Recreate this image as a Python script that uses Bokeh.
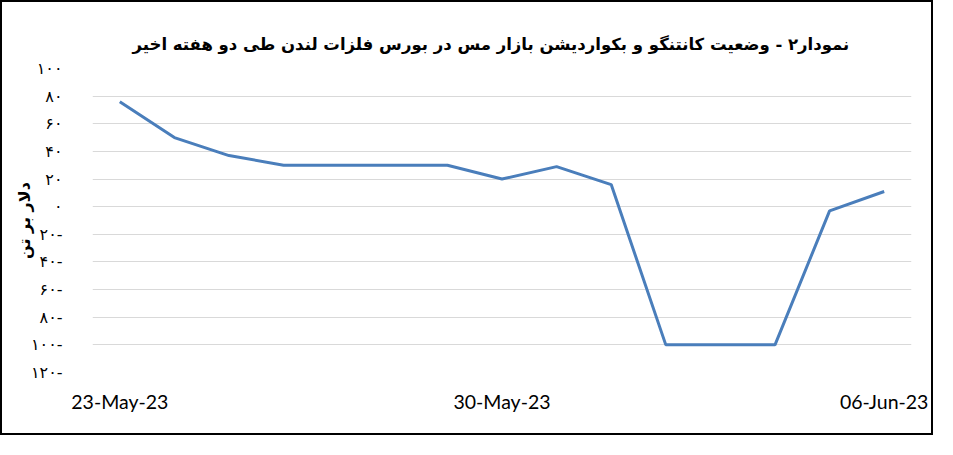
import pandas as pd
from bokeh.plotting import figure
from bokeh.models import Range1d, FixedTicker, DatetimeTickFormatter
from bokeh.embed import file_html
from bokeh.resources import INLINE

# ---- data ----
dates = ["2023-05-23", "2023-05-24", "2023-05-25", "2023-05-26", "2023-05-29",
         "2023-05-30", "2023-05-31", "2023-06-01", "2023-06-02", "2023-06-04",
         "2023-06-05", "2023-06-06"]
values = [76, 50, 37, 30, 30, 20, 29, 16, -100, -100, -3, 11]

y_ticks = [-120, -100, -80, -60, -40, -20, 0, 20, 40, 60, 80, 100]
y_tick_labels = ["۱۲۰-", "۱۰۰-", "۸۰-", "۶۰-", "۴۰-", "۲۰-", "۰", "۲۰", "۴۰", "۶۰", "۸۰", "۱۰۰"]
x_tick_dates = ["2023-05-23", "2023-05-30", "2023-06-06"]

title_text = "نمودار۲ - وضعیت کانتنگو و بکواردیشن بازار مس در بورس فلزات لندن طی دو هفته اخیر"
y_label = "دلار بر تن"

x = pd.to_datetime(dates)
half_day = pd.Timedelta(hours=12)

p = figure(width=933, height=435, output_backend="svg", toolbar_location=None,
           x_axis_type="datetime",
           x_range=Range1d(x[0] - half_day, pd.Timestamp(x_tick_dates[-1]) + half_day),
           y_range=Range1d(-120, 100),
           min_border_left=90, min_border_right=24, min_border_bottom=65, min_border_top=66)

p.line(x, values, line_color="#4A7EBB", line_width=3)

# title
p.title.text = title_text
p.title.align = "left"
p.title.offset = 40
p.title.text_font = "DejaVu Sans"
p.title.text_font_style = "bold"
p.title.text_font_size = "16.5px"
p.title.text_color = "#000000"
p.title.standoff = 30

# grid
p.xgrid.grid_line_color = None
p.ygrid.grid_line_color = "#D9D9D9"
p.ygrid.grid_line_width = 1
p.outline_line_color = None

# y axis
yax = p.yaxis[0]
yax.ticker = FixedTicker(ticks=y_ticks)
yax.major_label_overrides = {float(t): l for t, l in zip(y_ticks, y_tick_labels)}
yax.axis_line_color = None
yax.major_tick_line_color = None
yax.minor_tick_line_color = None
yax.major_label_standoff = 24
yax.major_label_text_font = "DejaVu Sans"
yax.major_label_text_font_size = "16px"
yax.major_label_text_color = "#000000"
yax.axis_label = y_label
yax.axis_label_text_font = "DejaVu Sans"
yax.axis_label_text_font_style = "bold"
yax.axis_label_text_font_size = "16px"
yax.axis_label_text_color = "#000000"
yax.axis_label_standoff = -6

# x axis
xax = p.xaxis[0]
xax.ticker = FixedTicker(ticks=[pd.Timestamp(d).value / 1e6 for d in x_tick_dates])
xax.formatter = DatetimeTickFormatter(days="%d-%b-%y", months="%d-%b-%y", hours="%d-%b-%y")
xax.axis_line_color = None
xax.major_tick_line_color = None
xax.minor_tick_line_color = None
xax.major_label_standoff = 11
xax.major_label_text_font = "Lato"
xax.major_label_text_font_size = "19.5px"
xax.major_label_text_color = "#000000"

p.styles = {"border": "2px solid black"}

open("out.html", "w").write(file_html(p, INLINE))
